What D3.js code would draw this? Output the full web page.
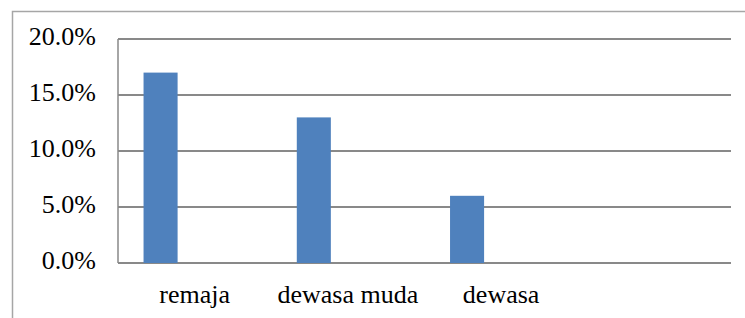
<html><head>
<meta charset="utf-8">
<script src="https://cdnjs.cloudflare.com/ajax/libs/d3/7.8.5/d3.min.js"></script>
<style>
  body { margin: 0; background: #fff; }
  svg { display: block; }
  text { font-family: "Liberation Serif", "Times New Roman", "DejaVu Serif", serif; font-size: 26px; }
</style>
</head>
<body>
<div id="chart"></div>
<script>

// values
var categories = ["remaja", "dewasa muda", "dewasa", ""];
var series = ["s1", "s2", "s3"];
var s1 = [0.17, 0.13, 0.06, null];
var s2 = [null, null, null, null];
var s3 = [null, null, null, null];
var yTicks = [0, 0.05, 0.10, 0.15, 0.20];

var W = 745, H = 318;
var plotLeft = 118, plotRight = 731, plotTop = 39, plotBottom = 263;

var svg = d3.select("#chart")
  .append("svg")
    .attr("width", W)
    .attr("height", H);

// outer chart frame (cut by the picture edges)
svg.append("rect")
  .attr("x", 12.5)
  .attr("y", 11.5)
  .attr("width", 900)
  .attr("height", 500)
  .attr("fill", "none")
  .attr("stroke", "#a6a6a6")
  .attr("stroke-width", 1.5);

var x = d3.scaleBand()
  .domain(categories)
  .range([plotLeft, plotRight]);

var xSub = d3.scaleBand()
  .domain(series)
  .range([0, x.bandwidth()])
  .paddingOuter(0.75)
  .paddingInner(0);

var y = d3.scaleLinear()
  .domain([0, 0.2])
  .range([plotBottom, plotTop]);

// gridlines
svg.append("g")
  .selectAll("line")
  .data(yTicks)
  .enter().append("line")
    .attr("x1", plotLeft)
    .attr("x2", plotRight)
    .attr("y1", function(d) { return y(d); })
    .attr("y2", function(d) { return y(d); })
    .attr("stroke", "#898989")
    .attr("stroke-width", 1.8);

// y axis line
svg.append("line")
  .attr("x1", plotLeft)
  .attr("x2", plotLeft)
  .attr("y1", y(0.2))
  .attr("y2", y(0))
  .attr("stroke", "#898989")
  .attr("stroke-width", 1.5);

// tick labels
svg.append("g")
  .selectAll("text")
  .data(yTicks)
  .enter().append("text")
    .attr("x", 96)
    .attr("y", function(d) { return y(d) + 6; })
    .attr("text-anchor", "end")
    .attr("fill", "#000")
    .text(d3.format(".1%"));

// bars
var rows = categories.map(function(c, i) {
  return { cat: c, vals: [s1[i], s2[i], s3[i]] };
});

var groups = svg.append("g")
  .selectAll("g")
  .data(rows)
  .enter().append("g")
    .attr("transform", function(d) { return "translate(" + x(d.cat) + ",0)"; });

groups.selectAll("rect")
  .data(function(d) {
    return series.map(function(s, j) { return { key: s, v: d.vals[j] }; })
      .filter(function(e) { return e.v != null; });
  })
  .enter().append("rect")
    .attr("x", function(d) { return xSub(d.key); })
    .attr("width", xSub.bandwidth())
    .attr("y", function(d) { return y(d.v); })
    .attr("height", function(d) { return y(0) - y(d.v); })
    .attr("fill", "#4f81bd");

// category labels
svg.append("g")
  .selectAll("text")
  .data(categories)
  .enter().append("text")
    .attr("x", function(d) { return x(d) + x.bandwidth() / 2; })
    .attr("y", 303)
    .attr("text-anchor", "middle")
    .attr("fill", "#000")
    .text(function(d) { return d; });

</script>
</body></html>
